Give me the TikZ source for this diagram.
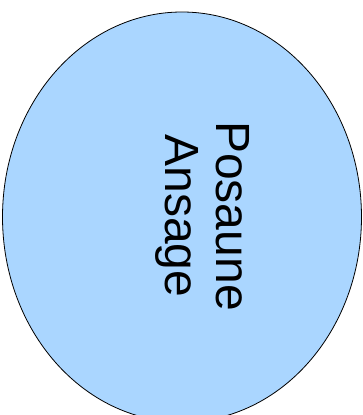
\documentclass[tikz,border=0pt]{standalone}
\usepackage{fontspec}
\setmainfont{Liberation Sans}
\usetikzlibrary{shapes.geometric, positioning}
\definecolor{ovalblue}{RGB}{170, 214, 255}

\begin{document}
\begin{tikzpicture}[
    x=1pt, y=1pt,
    oval/.style={ellipse, draw=black, fill=ovalblue, line width=0.8pt,
        minimum width=359pt, minimum height=410pt, inner sep=0pt},
    vlabel/.style={rotate=-90, align=center, inner sep=0pt,
        font=\fontsize{48}{51}\selectfont}
]
    \useasboundingbox (0,0) rectangle (363,415);
    % Ellipse
    \node[oval] (instrument) at (182,198) {};
    % Rotated text
    \node[vlabel] (name) at (203,199) {Posaune\\Ansage};
\end{tikzpicture}
\end{document}
